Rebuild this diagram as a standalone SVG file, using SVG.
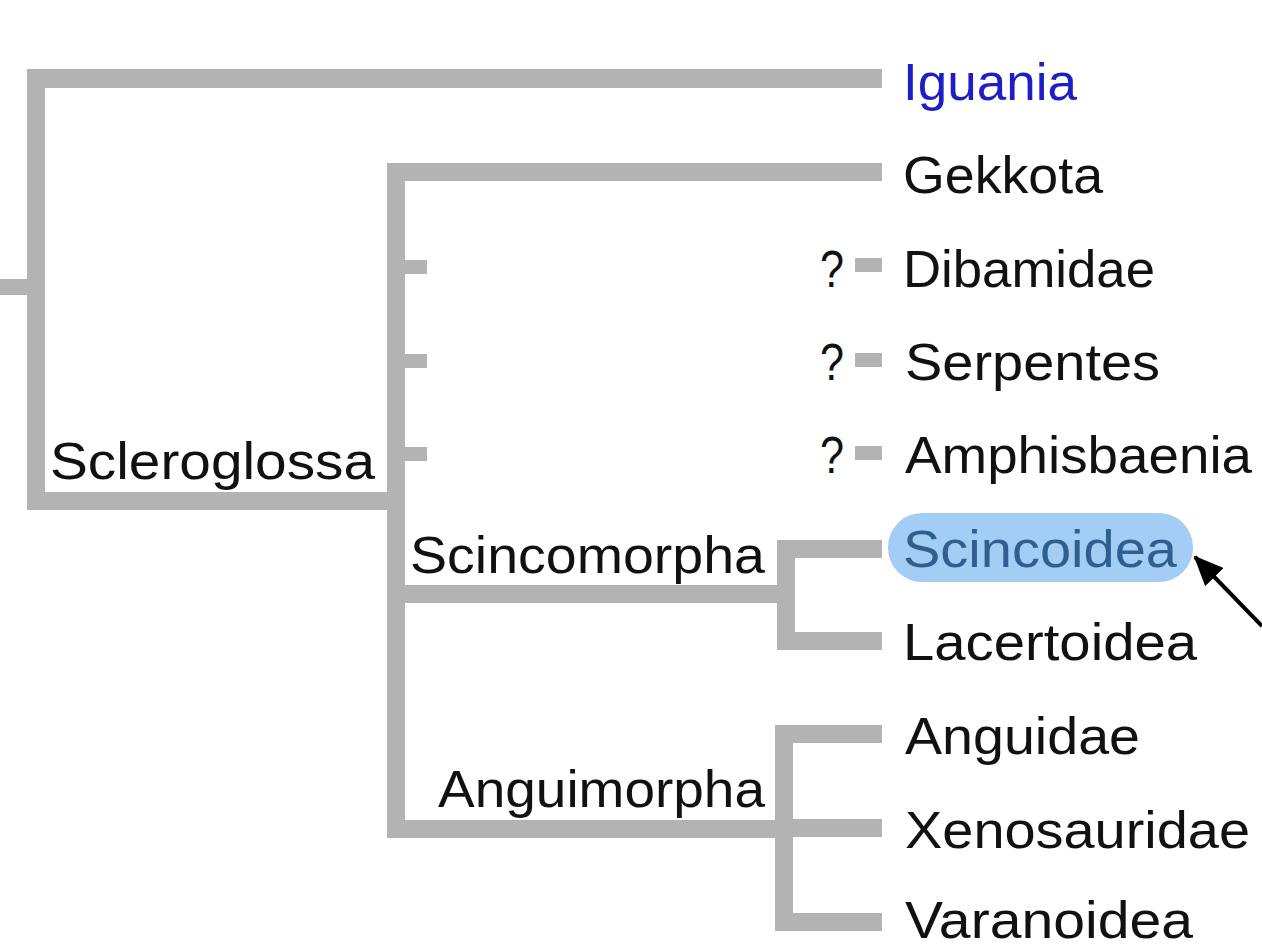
<svg xmlns="http://www.w3.org/2000/svg" width="1262" height="947" viewBox="0 0 1262 947">
<style>
.b{fill:#b3b3b3}
.t{font-family:"Liberation Sans",Arial,sans-serif;font-size:52px;fill:#111}
.ig{fill:#1e1ec8}
.sc{fill:#2f5f8f}
</style>
<defs>
<marker id="ah" markerWidth="30" markerHeight="26" refX="28" refY="13" orient="auto" markerUnits="userSpaceOnUse">
<path d="M0,0 L30,13 L0,26 Z" fill="#000"/>
</marker>
</defs>
<rect width="1262" height="947" fill="#fff"/>
<g id="connectors">
<rect class="b" x="0" y="279" width="28" height="16"/>
<rect class="b" x="27" y="69" width="18" height="441"/>
<rect class="b" x="27" y="69" width="855" height="19"/>
<rect class="b" x="27" y="492" width="378" height="18"/>
<rect class="b" x="387" y="163" width="18" height="675"/>
<rect class="b" x="387" y="163" width="495" height="18"/>
<rect class="b" x="405" y="260" width="22" height="14"/>
<rect class="b" x="405" y="354" width="22" height="14"/>
<rect class="b" x="405" y="447" width="22" height="14"/>
<rect class="b" x="855" y="258" width="27" height="14"/>
<rect class="b" x="855" y="353" width="27" height="14"/>
<rect class="b" x="855" y="446" width="27" height="14"/>
<rect class="b" x="387" y="585" width="408" height="18"/>
<rect class="b" x="777" y="540" width="18" height="110"/>
<rect class="b" x="777" y="540" width="105" height="18"/>
<rect class="b" x="777" y="632" width="105" height="18"/>
<rect class="b" x="387" y="820" width="406" height="18"/>
<rect class="b" x="775" y="725" width="18" height="206"/>
<rect class="b" x="775" y="725" width="107" height="18"/>
<rect class="b" x="775" y="819" width="107" height="18"/>
<rect class="b" x="775" y="913" width="107" height="18"/>
<line x1="1262" y1="626" x2="1195" y2="557" stroke="#000" stroke-width="4" marker-end="url(#ah)"/>
</g>
<g id="iguania"><text class="t ig" x="903" y="100" textLength="174" lengthAdjust="spacingAndGlyphs">Iguania</text></g>
<g id="gekkota"><text class="t" x="903" y="193" textLength="200" lengthAdjust="spacingAndGlyphs">Gekkota</text></g>
<g id="dibamidae"><text class="t" x="820" y="287" textLength="24" lengthAdjust="spacingAndGlyphs">?</text><text class="t" x="903" y="287" textLength="252" lengthAdjust="spacingAndGlyphs">Dibamidae</text></g>
<g id="serpentes"><text class="t" x="820" y="380" textLength="24" lengthAdjust="spacingAndGlyphs">?</text><text class="t" x="905" y="380" textLength="255" lengthAdjust="spacingAndGlyphs">Serpentes</text></g>
<g id="amphisbaenia"><text class="t" x="820" y="473" textLength="24" lengthAdjust="spacingAndGlyphs">?</text><text class="t" x="905" y="473" textLength="347" lengthAdjust="spacingAndGlyphs">Amphisbaenia</text></g>
<g id="scincoidea"><rect x="888" y="513" width="305" height="69" rx="34" fill="#a3cdf5"/><text class="t sc" x="903" y="567" textLength="274" lengthAdjust="spacingAndGlyphs">Scincoidea</text></g>
<g id="lacertoidea"><text class="t" x="903" y="660" textLength="294" lengthAdjust="spacingAndGlyphs">Lacertoidea</text></g>
<g id="anguidae"><text class="t" x="905" y="754" textLength="235" lengthAdjust="spacingAndGlyphs">Anguidae</text></g>
<g id="xenosauridae"><text class="t" x="905" y="848" textLength="345" lengthAdjust="spacingAndGlyphs">Xenosauridae</text></g>
<g id="varanoidea"><text class="t" x="905" y="938" textLength="288" lengthAdjust="spacingAndGlyphs">Varanoidea</text></g>
<g id="scleroglossa"><text class="t" x="50" y="479" textLength="325" lengthAdjust="spacingAndGlyphs">Scleroglossa</text></g>
<g id="scincomorpha"><text class="t" x="410" y="573" textLength="355" lengthAdjust="spacingAndGlyphs">Scincomorpha</text></g>
<g id="anguimorpha"><text class="t" x="438" y="807" textLength="327" lengthAdjust="spacingAndGlyphs">Anguimorpha</text></g>
</svg>
